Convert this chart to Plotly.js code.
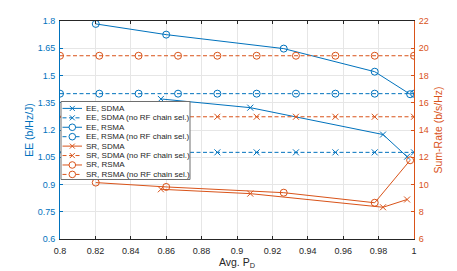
<!DOCTYPE html>
<html>
<head>
<meta charset="utf-8">
<script src="https://cdn.plot.ly/plotly-3.0.1.min.js"></script>
<style>html,body{margin:0;padding:0;background:#fff;}#chart{width:457px;height:271px;}</style>
</head>
<body>
<div id="chart"></div>
<script>
// ---- data ----
const xNoRF = [0.8, 0.8222, 0.8444, 0.8667, 0.8889, 0.9111, 0.9333, 0.9556, 0.9778, 1.0];
const eeSdmaNoRF = [1.077, 1.077, 1.077, 1.077, 1.077, 1.077, 1.077, 1.077, 1.077, 1.077];
const eeRsmaNoRF = [1.40, 1.40, 1.40, 1.40, 1.40, 1.40, 1.40, 1.40, 1.40, 1.40];
const srSdmaNoRF = [14.97, 14.97, 14.97, 14.97, 14.97, 14.97, 14.97, 14.97, 14.97, 14.97];
const srRsmaNoRF = [19.45, 19.45, 19.45, 19.45, 19.45, 19.45, 19.45, 19.45, 19.45, 19.45];

const xSdma = [0.857, 0.9075, 0.9825, 0.9961];
const eeSdma = [1.371, 1.323, 1.175, 1.053];
const srSdma = [9.65, 9.33, 8.33, 8.90];

const xRsma = [0.8202, 0.8600, 0.9264, 0.9778, 0.9978];
const eeRsma = [1.784, 1.725, 1.648, 1.521, 1.397];
const srRsma = [10.14, 9.82, 9.40, 8.66, 11.78];

const xTickVals = [0.8, 0.82, 0.84, 0.86, 0.88, 0.9, 0.92, 0.94, 0.96, 0.98, 1.0];
const xTickText = ['0.8', '0.82', '0.84', '0.86', '0.88', '0.9', '0.92', '0.94', '0.96', '0.98', '1'];
const yLeftTickVals = [0.6, 0.75, 0.9, 1.05, 1.2, 1.35, 1.5, 1.65, 1.8];
const yLeftTickText = ['0.6', '0.75', '0.9', '1.05', '1.2', '1.35', '1.5', '1.65', '1.8'];
const yRightTickVals = [6, 8, 10, 12, 14, 16, 18, 20, 22];
const yRightTickText = ['6', '8', '10', '12', '14', '16', '18', '20', '22'];

const legendLabels = ['EE, SDMA', 'EE, SDMA (no RF chain sel.)', 'EE, RSMA', 'EE, RSMA (no RF chain sel.)',
  'SR, SDMA', 'SR, SDMA (no RF chain sel.)', 'SR, RSMA', 'SR, RSMA (no RF chain sel.)'];

// ---- styles ----
const BLUE = '#0072BD', ORANGE = '#D95319', DARK = '#262626';
const DASH = '4px,2.5px';
const FONT = 'Liberation Sans, Arial, Helvetica, sans-serif';
const mX = {symbol: 'x-thin-open', size: 6, line: {width: 1}};
const mO = {symbol: 'circle-open', size: 7, line: {width: 1}};

function tr(x, y, color, dash, mk, yaxis) {
  return {x: x, y: y, yaxis: yaxis, type: 'scatter', mode: 'lines+markers', showlegend: false,
    line: {color: color, width: 1, dash: dash},
    marker: Object.assign({color: color}, mk, {line: {width: 1, color: color}}),
    hoverinfo: 'skip'};
}

const traces = [
  tr(xSdma, eeSdma, BLUE, 'solid', mX, 'y'),
  tr(xNoRF, eeSdmaNoRF, BLUE, DASH, mX, 'y'),
  tr(xRsma, eeRsma, BLUE, 'solid', mO, 'y'),
  tr(xNoRF, eeRsmaNoRF, BLUE, DASH, mO, 'y'),
  tr(xSdma, srSdma, ORANGE, 'solid', mX, 'y2'),
  tr(xNoRF, srSdmaNoRF, ORANGE, DASH, mX, 'y2'),
  tr(xRsma, srRsma, ORANGE, 'solid', mO, 'y2'),
  tr(xNoRF, srRsmaNoRF, ORANGE, DASH, mO, 'y2')
];

// ---- manual legend (pixel -> paper) ----
const L = 60, R = 414, T = 21, B = 239;
const px = v => (v - L) / (R - L);
const py = v => (B - v) / (B - T);
const shapes = [];
const annotations = [];
shapes.push({type: 'rect', xref: 'paper', yref: 'paper', layer: 'above',
  x0: px(61), x1: px(190), y0: py(179.5), y1: py(101.5),
  fillcolor: '#ffffff', line: {color: '#6e6e6e', width: 1}});
legendLabels.forEach((lab, i) => {
  const cy = 108.4 + i * 9.43;
  const color = i < 4 ? BLUE : ORANGE;
  const dash = (i % 2) ? DASH : 'solid';
  const isX = (i % 4) < 2;
  shapes.push({type: 'line', xref: 'paper', yref: 'paper', layer: 'above',
    x0: px(62.5), x1: px(82), y0: py(cy), y1: py(cy), line: {color: color, width: 1, dash: dash}});
  const cx = px(72.3), cyp = py(cy);
  if (isX) {
    [[-2.5, -2.5, 2.5, 2.5], [-2.5, 2.5, 2.5, -2.5]].forEach(d => {
      shapes.push({type: 'line', xref: 'paper', yref: 'paper', layer: 'above',
        xsizemode: 'pixel', ysizemode: 'pixel', xanchor: cx, yanchor: cyp,
        x0: d[0], y0: d[1], x1: d[2], y1: d[3], line: {color: color, width: 1}});
    });
  } else {
    shapes.push({type: 'circle', xref: 'paper', yref: 'paper', layer: 'above',
      xsizemode: 'pixel', ysizemode: 'pixel', xanchor: cx, yanchor: cyp,
      x0: -3.3, y0: -3.3, x1: 3.3, y1: 3.3, fillcolor: '#ffffff', line: {color: color, width: 1}});
  }
  annotations.push({xref: 'paper', yref: 'paper', x: px(84), y: cyp, xanchor: 'left', yanchor: 'middle',
    text: lab, showarrow: false, font: {family: FONT, size: 8, color: DARK}});
});

const layout = {
  width: 457, height: 271,
  margin: {l: L, r: 457 - R, t: T, b: 271 - B, pad: 0},
  paper_bgcolor: '#ffffff', plot_bgcolor: '#ffffff',
  font: {family: FONT, size: 9, color: DARK},
  showlegend: false,
  xaxis: {
    range: [0.8, 1.0], tickvals: xTickVals, ticktext: xTickText,
    showline: true, linecolor: DARK, linewidth: 1, mirror: 'ticks',
    ticks: 'inside', ticklen: 3, tickcolor: DARK, tickwidth: 1, ticklabelstandoff: 3,
    showgrid: true, gridcolor: '#e6e6e6', gridwidth: 1, zeroline: false,
    tickfont: {family: FONT, size: 9, color: DARK},
    title: {text: 'Avg. P<sub>D</sub>', font: {family: FONT, size: 10.5, color: DARK}, standoff: 0}
  },
  yaxis: {
    range: [0.6, 1.8], tickvals: yLeftTickVals, ticktext: yLeftTickText,
    showline: true, linecolor: BLUE, linewidth: 1,
    ticks: 'inside', ticklen: 3, tickcolor: BLUE, tickwidth: 1, ticklabelstandoff: 2,
    showgrid: true, gridcolor: '#e6e6e6', gridwidth: 1, zeroline: false,
    tickfont: {family: FONT, size: 9, color: BLUE},
    title: {text: 'EE (b/Hz/J)', font: {family: FONT, size: 10.5, color: BLUE}, standoff: 1}
  },
  yaxis2: {
    range: [6, 22], tickvals: yRightTickVals, ticktext: yRightTickText,
    overlaying: 'y', side: 'right',
    showline: true, linecolor: ORANGE, linewidth: 1,
    ticks: 'inside', ticklen: 3, tickcolor: ORANGE, tickwidth: 1, ticklabelstandoff: 2,
    showgrid: false, zeroline: false,
    tickfont: {family: FONT, size: 9, color: ORANGE},
    title: {text: 'Sum-Rate (b/s/Hz)', font: {family: FONT, size: 10.5, color: ORANGE}, standoff: 6}
  },
  shapes: shapes,
  annotations: annotations
};

Plotly.newPlot('chart', traces, layout, {staticPlot: true, displayModeBar: false});
</script>
</body>
</html>
